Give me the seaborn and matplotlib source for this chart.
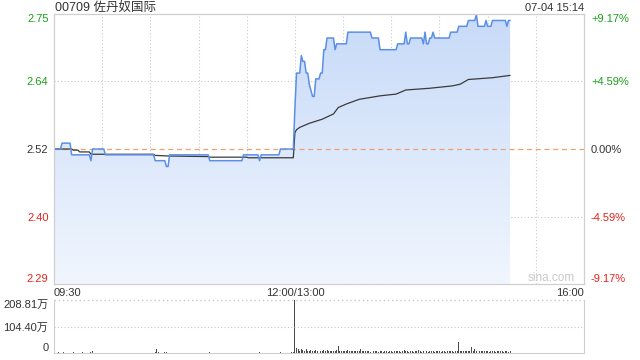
import numpy as np
import matplotlib
matplotlib.use('Agg')
import matplotlib.pyplot as plt
import seaborn as sns
from matplotlib.colors import LinearSegmentedColormap

sns.set_theme(style='white')
plt.rcParams['font.family'] = ['Liberation Sans', 'Noto Sans CJK SC', 'DejaVu Sans']

# ---------------- data ----------------
title = '00709 佐丹奴国际'
stamp = '07-04 15:14'
prev_close = 2.52
pct_levels = [-0.0917, -0.0459, 0.0, 0.0459, 0.0917]
price_tick_labels = ['2.29', '2.40', '2.52', '2.64', '2.75']
pct_tick_labels = ['-9.17%', '-4.59%', '0.00%', '+4.59%', '+9.17%']
x_tick_minutes = [0, 150, 330]
x_tick_labels = ['09:30', '12:00/13:00', '16:00']
vol_tick_values = [0, 104.40, 208.81]
vol_tick_labels = ['0', '104.40万', '208.81万']

# minutes since 09:30 (lunch break removed) and last price
price_t = [0, 4, 5, 10, 11, 22, 23, 24, 31, 32, 62, 63, 69, 70, 71, 72, 96, 97, 117, 118,
           127, 128, 129, 140, 141, 149, 150, 151, 153, 154, 155, 156, 157, 158, 159, 160,
           161, 162, 163, 165, 166, 167, 168, 169, 170, 174, 175, 176, 182, 183, 197, 198,
           202, 203, 213, 214, 218, 219, 220, 221, 222, 229, 230, 231, 232, 233, 234, 235,
           236, 237, 246, 247, 251, 252, 257, 258, 262, 263, 264, 268, 269, 270, 272, 273,
           281, 282, 283, 284]
price_v = [2.52, 2.52, 2.53, 2.53, 2.51, 2.51, 2.50, 2.52, 2.52, 2.51, 2.51, 2.50, 2.50, 2.49,
           2.49, 2.51, 2.51, 2.50, 2.50, 2.51, 2.51, 2.50, 2.51, 2.51, 2.52, 2.52, 2.59, 2.65,
           2.65, 2.68, 2.67, 2.67, 2.65, 2.65, 2.63, 2.62, 2.61, 2.61, 2.64, 2.64, 2.65, 2.65,
           2.69, 2.69, 2.71, 2.71, 2.69, 2.70, 2.70, 2.72, 2.72, 2.71, 2.71, 2.69, 2.69, 2.70,
           2.70, 2.72, 2.70, 2.70, 2.71, 2.71, 2.70, 2.72, 2.70, 2.70, 2.71, 2.71, 2.72, 2.71,
           2.71, 2.72, 2.72, 2.73, 2.73, 2.74, 2.74, 2.75, 2.73, 2.73, 2.74, 2.73, 2.73, 2.74,
           2.74, 2.73, 2.74, 2.74]

# average price line
avg_t = [0, 11, 12, 15, 16, 22, 23, 62, 63, 72, 96, 97, 120, 121, 149, 150, 151, 153, 159,
         167, 174, 177, 182, 190, 203, 213, 219, 234, 248, 253, 258, 273, 284]
avg_v = [2.520, 2.520, 2.518, 2.518, 2.515, 2.515, 2.511, 2.511, 2.509, 2.508, 2.507, 2.506,
         2.506, 2.505, 2.505, 2.548, 2.553, 2.557, 2.564, 2.571, 2.580, 2.591, 2.597, 2.605,
         2.611, 2.614, 2.621, 2.624, 2.628, 2.631, 2.639, 2.642, 2.646]

# volume per minute (万股), minute 0 .. 284
volume = [
    5.2, 1.8, 1.2, 2.4, 0.8, 1.5, 2.0, 1.1, 0.6, 1.9, 1.3, 0.9, 2.2, 1.0, 1.4,
    0.7, 1.6, 1.2, 2.8, 0.9, 1.1, 1.5, 0.8, 2.1, 7.5, 1.2, 1.0, 1.7, 0.6, 1.3,
    1.1, 0.9, 1.4, 0.8, 1.2, 1.6, 0.7, 1.0, 1.3, 0.9, 1.8, 0.6, 1.1, 1.4, 0.8,
    1.2, 0.9, 1.5, 0.7, 1.0, 1.3, 0.8, 1.6, 1.1, 0.9, 1.2, 0.7, 1.4, 1.0, 0.8,
    1.3, 1.1, 0.9, 4.5, 14.0, 2.1, 1.5, 1.8, 1.2, 2.4, 3.1, 1.6, 1.0, 1.3, 0.9,
    1.2, 0.8, 1.5, 1.0, 0.7, 1.4, 1.1, 0.9, 1.6, 0.8, 1.2, 1.0, 1.3, 0.7, 1.1,
    0.9, 1.4, 0.8, 1.2, 1.0, 1.5, 0.7, 2.2, 1.6, 1.1, 0.9, 1.3, 0.8, 1.2, 1.0,
    1.4, 0.9, 1.1, 0.7, 1.3, 1.0, 0.8, 1.5, 1.2, 0.9, 1.1, 1.6, 1.8, 1.2, 1.0,
    1.4, 0.8, 1.1, 1.3, 0.9, 1.5, 1.0, 1.2, 2.6, 1.4, 1.1, 0.9, 1.3, 1.0, 1.2,
    0.8, 1.4, 1.1, 1.0, 1.3, 1.9, 2.2, 1.5, 1.2, 1.6, 1.1, 1.8, 1.4, 2.0, 3.5,
    208.81, 18.0, 14.5, 9.2, 16.0, 11.5, 8.0, 13.8, 7.6, 9.0, 12.2, 8.1, 6.8, 10.0, 7.2,
    8.5, 6.6, 9.8, 12.0, 7.5, 10.2, 8.0, 6.9, 9.1, 7.8, 8.6, 11.3, 28.0, 9.0, 7.2,
    8.1, 6.5, 7.6, 12.5, 9.2, 7.0, 6.2, 8.4, 7.1, 6.0, 9.5, 16.5, 7.4, 6.6, 8.0,
    6.2, 7.5, 5.8, 6.9, 8.6, 6.1, 7.2, 5.6, 6.8, 7.9, 5.9, 6.5, 7.1, 5.7, 6.3,
    7.6, 5.5, 6.7, 8.2, 6.0, 7.4, 5.8, 6.6, 12.8, 7.0, 6.2, 5.9, 7.5, 6.4, 5.7,
    6.8, 7.2, 10.9, 6.1, 5.6, 7.7, 11.3, 6.5, 5.9, 7.0, 6.3, 8.1, 5.8, 6.6, 7.3,
    6.0, 5.5, 6.9, 7.6, 5.7, 6.4, 8.5, 6.1, 7.8, 5.9, 6.6, 7.1, 42.0, 9.5, 6.8,
    7.4, 6.2, 8.0, 6.7, 7.9, 22.0, 9.0, 15.5, 7.6, 6.5, 8.2, 6.9, 7.3, 9.1, 6.4,
    7.0, 5.8, 6.6, 7.7, 6.1, 5.9, 6.8, 7.4, 6.0, 6.5, 5.6, 7.1, 6.3, 5.7, 6.9,
]
vol_max = 208.81

# ---------------- styling ----------------
GREEN = '#1a9e1a'
RED = '#e8221e'
DARK = '#333333'
GRID = '#c8c8c8'
SPINE = '#cfcfcf'
BLUE = '#5b8fe6'

levels = [prev_close * (1 + p) for p in pct_levels]
ymin, ymax = levels[0], levels[-1]
label_colors = [RED, RED, DARK, GREEN, GREEN]

fig = plt.figure(figsize=(6.4, 3.6), dpi=100)
fig.patch.set_facecolor('white')

W, H = 640.0, 360.0
ax = fig.add_axes([54 / W, 1 - 284 / H, 530 / W, 270 / H])

# gradient fill under price line
poly = ax.fill_between(price_t, price_v, ymin, color='none', lw=0)
cmap = LinearSegmentedColormap.from_list('fill', ['#f1f6fe', '#c7daf8'])
grad = np.linspace(0, 1, 256).reshape(-1, 1)
im = ax.imshow(grad, extent=[price_t[0], price_t[-1], ymin, ymax], origin='lower',
               aspect='auto', cmap=cmap, zorder=1)
im.set_clip_path(poly.get_paths()[0], transform=ax.transData)

# grid
for m in range(30, 330, 30):
    ax.axvline(m, color=GRID, ls=(0, (1, 2)), lw=0.8, zorder=0.5)
for lv in (levels[1], levels[3]):
    ax.axhline(lv, color=GRID, ls=(0, (1, 2)), lw=0.8, zorder=0.5)
ax.axhline(prev_close, color='#f0a070', ls=(0, (4, 3)), lw=0.9, zorder=2)

sns.lineplot(x=price_t, y=price_v, ax=ax, color=BLUE, lw=1.1, estimator=None, zorder=4)
sns.lineplot(x=avg_t, y=avg_v, ax=ax, color='#3a3a3a', lw=0.9, estimator=None, zorder=3)

ax.set_xlim(0, 330)
ax.set_ylim(ymin, ymax)
ax.set_xlabel('')
ax.set_ylabel('')

ax.set_yticks(levels)
ax.set_yticklabels(price_tick_labels)
ax.tick_params(axis='y', length=0, pad=4, labelsize=8)
for lab, c in zip(ax.get_yticklabels(), label_colors):
    lab.set_color(c)
ax.get_yticklabels()[0].set_va('bottom')
ax.get_yticklabels()[-1].set_va('top')

ax.set_xticks(x_tick_minutes)
ax.set_xticklabels(x_tick_labels)
ax.tick_params(axis='x', length=0, pad=3, labelsize=8, colors=DARK)
xl = ax.get_xticklabels()
xl[0].set_ha('left')
xl[1].set_ha('center')
xl[2].set_ha('right')

ax2 = ax.twinx()
ax2.set_ylim(ymin, ymax)
ax2.set_yticks(levels)
ax2.set_yticklabels(pct_tick_labels)
ax2.tick_params(axis='y', length=0, pad=5, labelsize=8)
for lab, c in zip(ax2.get_yticklabels(), label_colors):
    lab.set_color(c)
ax2.get_yticklabels()[0].set_va('bottom')
ax2.get_yticklabels()[-1].set_va('top')

for a in (ax, ax2):
    for s in a.spines.values():
        s.set_color(SPINE)
        s.set_linewidth(0.8)

ax.text(0.983, 0.0, 'sina.com', transform=ax.transAxes, ha='right', va='bottom',
        color='#c9c9c9', fontsize=8.5, zorder=5)

fig.text(55 / W, 1 - 8 / H, title, ha='left', va='center', fontsize=9, color=DARK)
fig.text(584 / W, 1 - 8 / H, stamp, ha='right', va='center', fontsize=8, color=DARK)

# volume panel
vax = fig.add_axes([54 / W, 1 - 353 / H, 530 / W, 53 / H])
vax.bar(np.arange(len(volume)), volume, width=0.6, color='#4a4a4a', lw=0)
vax.set_xlim(0, 330)
vax.set_ylim(0, vol_max)
vax.axhline(vol_max / 2, color=GRID, ls=(0, (1, 2)), lw=0.8)
vax.axhline(vol_max, color=GRID, ls=(0, (1, 2)), lw=1.0, clip_on=False)
vax.set_xticks([])
vax.set_yticks(vol_tick_values)
vax.set_yticklabels(vol_tick_labels)
vax.tick_params(axis='y', length=0, pad=4, labelsize=8, colors=DARK)
vax.get_yticklabels()[0].set_va('bottom')
vax.get_yticklabels()[-1].set_va('top')
for k, s in vax.spines.items():
    s.set_color(SPINE)
    s.set_linewidth(0.8)
vax.spines['top'].set_visible(False)

fig.savefig('out.png', dpi=100, facecolor='white')
